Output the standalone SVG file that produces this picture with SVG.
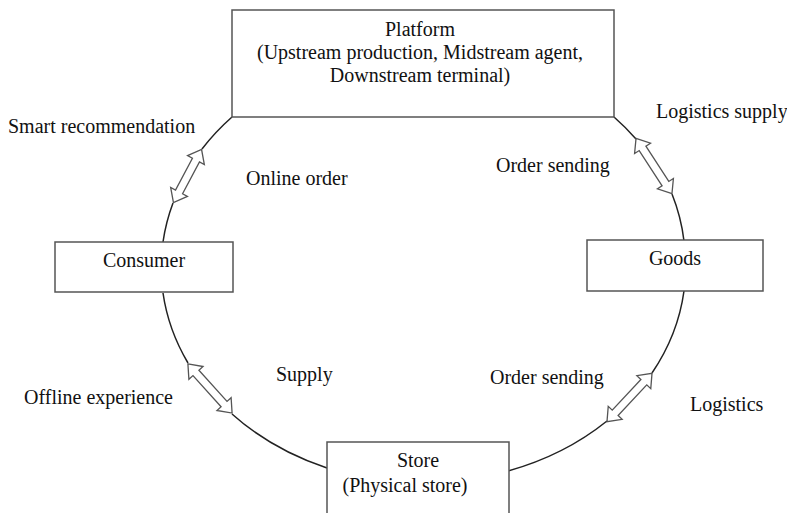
<svg xmlns="http://www.w3.org/2000/svg" width="787" height="513" viewBox="0 0 787 513">
<style>
.box{fill:#fff;stroke:#555;stroke-width:1.5}
.arc{fill:none;stroke:#222;stroke-width:1.5}
.arr{fill:#fff;stroke:#555;stroke-width:1.3;stroke-linejoin:miter}
text{font-family:"Liberation Serif","Times New Roman",serif;font-size:20px;fill:#111}
.c{text-anchor:middle}
</style>
<rect width="787" height="513" fill="#fff"/>
<g id="connectors">
<path class="arc" d="M232,117 A262,217 0 0 0 202,149"/>
<path class="arc" d="M173,203 A262,217 0 0 0 163,242"/>
<path class="arc" d="M163,293 A262,217 0 0 0 188,363"/>
<path class="arc" d="M232,414 A262,217 0 0 0 327,468"/>
<path class="arc" d="M508,471 A262,217 0 0 0 607,421"/>
<path class="arc" d="M652,373 A262,217 0 0 0 684,291"/>
<path class="arc" d="M684,241 A262,217 0 0 0 672,194"/>
<path class="arc" d="M636,139 A262,217 0 0 0 614,117"/>
<polygon class="arr" transform="translate(187.5,176) rotate(-62)" points="-30,0 -18,-9.5 -18,-4 18,-4 18,-9.5 30,0 18,9.5 18,4 -18,4 -18,9.5"/>
<polygon class="arr" transform="translate(654,166) rotate(57)" points="-33,0 -21,-9.5 -21,-4 21,-4 21,-9.5 33,0 21,9.5 21,4 -21,4 -21,9.5"/>
<polygon class="arr" transform="translate(210,388.5) rotate(48)" points="-33,0 -21,-9.5 -21,-4 21,-4 21,-9.5 33,0 21,9.5 21,4 -21,4 -21,9.5"/>
<polygon class="arr" transform="translate(629.5,397.5) rotate(133)" points="-33,0 -21,-9.5 -21,-4 21,-4 21,-9.5 33,0 21,9.5 21,4 -21,4 -21,9.5"/>
</g>
<g id="platform">
<rect class="box" x="232" y="10" width="382" height="107"/>
<text class="c" x="420" y="36">Platform</text>
<text class="c" x="420" y="59">(Upstream production, Midstream agent,</text>
<text class="c" x="420" y="82">Downstream terminal)</text>
</g>
<g id="consumer">
<rect class="box" x="55" y="242" width="178" height="50"/>
<text class="c" x="144" y="267">Consumer</text>
</g>
<g id="goods">
<rect class="box" x="587" y="240" width="176" height="51"/>
<text class="c" x="675" y="265">Goods</text>
</g>
<g id="store">
<rect class="box" x="327" y="442" width="182" height="80"/>
<text class="c" x="418" y="467">Store</text>
<text class="c" x="405" y="492">(Physical store)</text>
</g>
<g id="labels">
<text x="8" y="133">Smart recommendation</text>
<text x="246" y="185">Online order</text>
<text x="496" y="172">Order sending</text>
<text x="656" y="118">Logistics supply</text>
<text x="276" y="381">Supply</text>
<text x="490" y="384">Order sending</text>
<text x="24" y="404">Offline experience</text>
<text x="690" y="411">Logistics</text>
</g>
</svg>
